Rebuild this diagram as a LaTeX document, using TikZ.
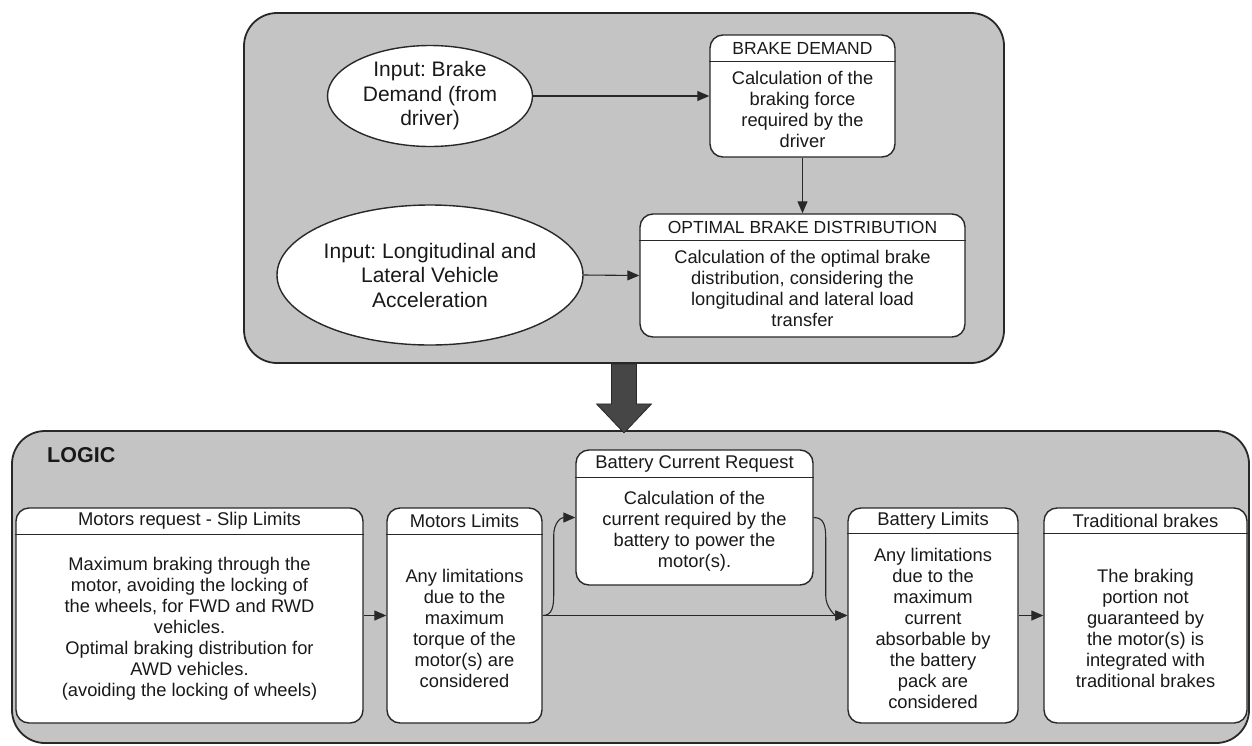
\documentclass[tikz,border=0pt]{standalone}
\usepackage{fontspec}
\setmainfont{Liberation Sans}
\frenchspacing
\usetikzlibrary{shapes.geometric,arrows.meta,calc}
\definecolor{panel}{RGB}{196,196,196}
\definecolor{linec}{RGB}{40,40,40}
\definecolor{txt}{RGB}{25,25,25}
\definecolor{bigc}{RGB}{70,70,70}
\tikzset{
  container/.style={draw=linec, line width=1.8pt, fill=panel, rounded corners=33pt, inner sep=0pt},
  blk/.style={draw=linec, line width=1.4pt, fill=white, rounded corners=13pt, inner sep=0pt},
  ell/.style={ellipse, draw=linec, line width=1.4pt, fill=white, inner sep=0pt, align=center,
    text=txt, font=\fontsize{21}{24.5}\selectfont},
  body/.style={align=center, text=txt, font=\fontsize{18.3}{21}\selectfont, inner sep=0pt},
  conn/.style={draw=linec, line width=1.1pt, -{Triangle[length=12pt,width=10pt]}},
  hline/.style={draw=linec, line width=1pt}
}
% #1 name, #2 x1, #3 y1, #4 x2, #5 y2, #6 header line y, #7 header, #8 body, #9 header size
\newcommand{\blockbox}[9]{%
  \node[blk, minimum width={#4-#2}, minimum height={#5-#3}] (#1) at ({(#2+#4)/2},{(#3+#5)/2}) {};
  \draw[hline] (#1.west |- 0,#6) -- (#1.east |- 0,#6);
  \node[inner sep=0pt, text=txt, font=\fontsize{#9}{#9}\selectfont] (#1-h) at ({(#2+#4)/2},{(#3+#6)/2}) {#7};
  \node[body] (#1-b) at ({(#2+#4)/2},{(#6+#5)/2}) {#8};
}
\begin{document}
\begin{tikzpicture}[x=1pt,y=-1pt]
\useasboundingbox (0,0) rectangle (1252,745);

% containers
\node[container, minimum width=760, minimum height=350] (top) at (624,188) {};
\node[container, minimum width=1237, minimum height=312] (logic) at (630.5,587) {};

% top part
\node[ell, minimum width=205, minimum height=101] (e1) at (430,96) {Input: Brake\\Demand (from\\driver)};
\node[ell, minimum width=306, minimum height=140] (e2) at (430,275) {Input: Longitudinal and\\Lateral Vehicle\\Acceleration};

\blockbox{bd}{710}{35}{895}{157}{61}{BRAKE DEMAND}{Calculation of the\\braking force\\required by the\\driver}{17.5}
\blockbox{opt}{640}{214}{965}{337}{240}{OPTIMAL BRAKE DISTRIBUTION}{Calculation of the optimal brake\\distribution, considering the\\longitudinal and lateral load\\transfer}{17.5}

\draw[conn] (e1.east) -- (bd.west);
\draw[conn] (e2.east) -- (opt.west);
\draw[conn] (bd.south) -- (opt.north);

% big arrow
\draw[fill=bigc, draw=linec, line width=0.8pt]
  ($(top.south)+(-12.5,0)$) -- ($(top.south)+(-12.5,40)$) -- ($(top.south)+(-27.5,40)$)
  -- ($(top.south)+(0,69)$) -- ($(top.south)+(27.5,40)$) -- ($(top.south)+(12.5,40)$)
  -- ($(top.south)+(12.5,0)$) -- cycle;

% logic part
\node[anchor=west, inner sep=0pt, text=txt, font=\fontsize{21.5}{21.5}\selectfont\bfseries] (lg) at (47,455) {LOGIC};

\blockbox{mr}{16}{508}{363}{723}{534}{Motors request - Slip Limits}{Maximum braking through the\\motor, avoiding the locking of\\the wheels, for FWD and RWD\\vehicles.\\Optimal braking distribution for\\AWD vehicles.\\(avoiding the locking of wheels)}{18.4}
\blockbox{ml}{387}{508}{542}{723}{534}{Motors Limits}{Any limitations\\due to the\\maximum\\torque of the\\motor(s) are\\considered}{18.4}
\blockbox{bcr}{576}{450}{813}{585}{477}{Battery Current Request}{Calculation of the\\current required by the\\battery to power the\\motor(s).}{18.4}
\blockbox{bl}{848}{508}{1018}{723}{533}{Battery Limits}{Any limitations\\due to the\\maximum\\current\\absorbable by\\the battery\\pack are\\considered}{18.4}
\blockbox{tb}{1044}{508}{1247}{723}{533}{Traditional brakes}{The braking\\portion not\\guaranteed by\\the motor(s) is\\integrated with\\traditional brakes}{18.4}

\draw[conn] (mr.east) -- (ml.west);
\draw[conn] (ml.east) -- (bl.west);
\draw[conn] (ml.east) .. controls +(9,0) and +(0,12) .. ++(11,-20) -- ++(0,-60)
  .. controls +(0,-12) and +(-15,0) .. (bcr.west);
\draw[conn] (bcr.east) .. controls +(10,0) and +(0,-12) .. ++(12,20) -- ++(0,58)
  .. controls +(0,12) and +(-12,0) .. (bl.west);
\draw[conn] (bl.east) -- (tb.west);
\end{tikzpicture}
\end{document}
